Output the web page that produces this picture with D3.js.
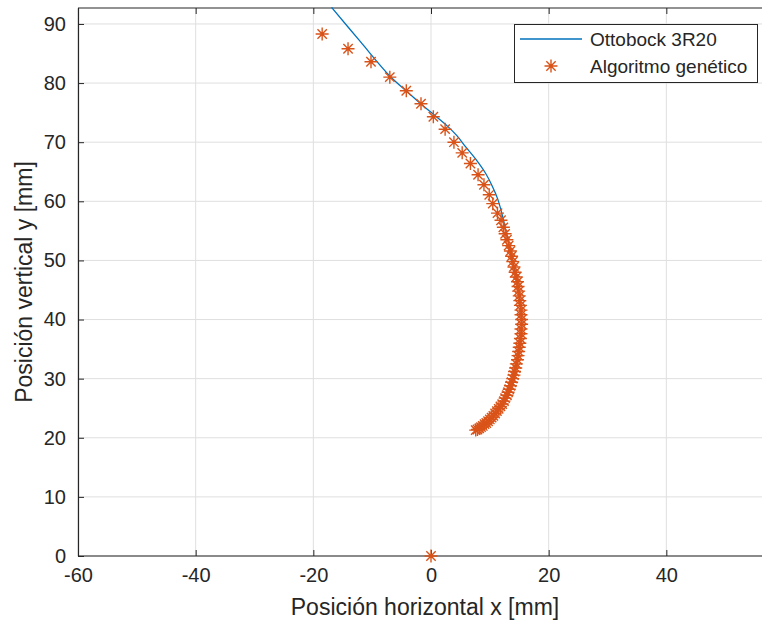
<!DOCTYPE html>
<html>
<head>
<meta charset="utf-8">
<script src="https://cdn.jsdelivr.net/npm/d3@7"></script>
<style>
  body { margin: 0; background: #fff; }
  svg { display: block; font-family: "Liberation Sans", Arial, sans-serif; }
</style>
</head>
<body>
<div id="chart"></div>
<script>
// Ottobock 3R20 trajectory (line)
var lineX = [-16.9, -12.0, -7.0, -3.9, -1.4, 0.8, 2.7, 4.4, 5.9, 7.7, 9.3, 10.4, 11.3, 11.9, 12.6, 13.3, 13.9, 14.4, 14.8, 15.1, 15.3, 15.4, 15.4, 15.3, 15.1, 14.8, 14.4, 13.9, 13.3, 12.6, 11.8, 10.9, 10.0, 9.1, 8.2, 7.6];
var lineY = [92.8, 87.0, 81.2, 78.4, 76.2, 74.4, 72.8, 71.1, 69.2, 67.0, 64.7, 62.6, 60.5, 58.5, 55.6, 52.5, 49.8, 47.2, 45.2, 43.2, 41.6, 40.0, 38.4, 36.8, 35.3, 33.9, 32.3, 30.3, 28.2, 26.4, 25.0, 24.0, 23.1, 22.3, 21.6, 21.3];

// Algoritmo genético (stars)
var gaX = [-18.5, -14.1, -10.2, -7.0, -4.2, -1.7, 0.4, 2.4, 3.9, 5.3, 6.7, 8.0, 9.0, 9.9, 10.5, 11.3, 11.9,
  12.3, 12.6, 12.9, 13.2, 13.5, 13.7, 13.9, 14.1, 14.3, 14.5, 14.7, 14.8, 14.9, 15.0, 15.1, 15.2, 15.3, 15.3, 15.4, 15.4,
  15.3, 15.3, 15.2, 15.1, 15.0, 14.9, 14.8, 14.7, 14.5, 14.4, 14.2, 14.1, 13.9, 13.7, 13.5, 13.3, 13.1, 12.9, 12.6, 12.4,
  12.1, 11.8, 11.5, 11.2, 10.9, 10.6, 10.3, 10.0, 9.7, 9.4, 9.1, 8.8, 8.5, 8.2, 7.9, 7.6, 0];
var gaY = [88.3, 85.8, 83.6, 81.0, 78.7, 76.5, 74.3, 72.2, 70.0, 68.2, 66.4, 64.5, 62.8, 61.1, 59.6, 58.0, 56.8,
  55.6, 54.5, 53.5, 52.5, 51.6, 50.7, 49.8, 48.9, 48.0, 47.2, 46.4, 45.6, 44.8, 44.0, 43.2, 42.4, 41.6, 40.8, 40.0, 39.2,
  38.4, 37.6, 36.8, 36.0, 35.3, 34.6, 33.9, 33.2, 32.5, 31.8, 31.2, 30.6, 30.0, 29.4, 28.8, 28.2, 27.7, 27.2, 26.7, 26.2,
  25.7, 25.3, 24.9, 24.5, 24.1, 23.7, 23.4, 23.1, 22.8, 22.5, 22.3, 22.0, 21.8, 21.6, 21.4, 21.3, 0];

var xTicks = [-60, -40, -20, 0, 20, 40];
var yTicks = [0, 10, 20, 30, 40, 50, 60, 70, 80, 90];
var seriesNames = ["Ottobock 3R20", "Algoritmo genético"];

var W = 762, H = 626;
var mLeft = 78, mTop = 8, mBottom = 556, mRight = 784;
var blue = "#0072BD", orange = "#D95319", axisCol = "#262626";

var svg = d3.select("#chart").append("svg").attr("width", W).attr("height", H);

var x = d3.scaleLinear().domain([-60, 60]).range([mLeft, mRight]);
var y = d3.scaleLinear().domain([0, 92.7]).range([mBottom, mTop]);

// grid
svg.append("g").selectAll("line").data(xTicks).enter().append("line")
  .attr("x1", function (d) { return x(d); }).attr("x2", function (d) { return x(d); })
  .attr("y1", mTop).attr("y2", mBottom)
  .attr("stroke", "#dfdfdf").attr("stroke-width", 1);
svg.append("g").selectAll("line").data(yTicks).enter().append("line")
  .attr("x1", mLeft).attr("x2", W)
  .attr("y1", function (d) { return y(d); }).attr("y2", function (d) { return y(d); })
  .attr("stroke", "#dfdfdf").attr("stroke-width", 1);

// axes
var fmt = function (d) { return String(d); };
var xAxis = d3.axisBottom(x).tickValues(xTicks).tickSizeInner(-6).tickSizeOuter(0).tickPadding(12).tickFormat(fmt);
var yAxis = d3.axisLeft(y).tickValues(yTicks).tickSizeInner(-6).tickSizeOuter(0).tickPadding(12).tickFormat(fmt);
var gx = svg.append("g").attr("transform", "translate(0," + mBottom + ")").call(xAxis);
var gy = svg.append("g").attr("transform", "translate(" + mLeft + ",0)").call(yAxis);
var gxt = svg.append("g").attr("transform", "translate(0," + mTop + ")")
  .call(d3.axisTop(x).tickValues(xTicks).tickSizeInner(-6).tickSizeOuter(0).tickFormat(""));
[gx, gy, gxt].forEach(function (g) {
  g.select(".domain").attr("stroke", axisCol).attr("stroke-width", 1.2);
  g.selectAll(".tick line").attr("stroke", axisCol);
  g.selectAll(".tick text").attr("fill", axisCol).attr("font-size", 20)
    .attr("font-family", "Liberation Sans, Arial, sans-serif");
});
gx.select(".domain").attr("d", "M" + mLeft + ",0H" + W);
gxt.select(".domain").attr("d", "M" + mLeft + ",0H" + W);

// Ottobock line
var line = d3.line().x(function (d) { return x(d[0]); }).y(function (d) { return y(d[1]); }).curve(d3.curveCatmullRom);
svg.append("path").datum(d3.zip(lineX, lineY))
  .attr("d", line).attr("fill", "none").attr("stroke", blue).attr("stroke-width", 1.3);

// asterisk marker
function star(g, r) {
  var d = "M" + (-r) + ",0H" + r + "M0," + (-r) + "V" + r;
  var k = r * 0.72;
  d += "M" + (-k) + "," + (-k) + "L" + k + "," + k + "M" + (-k) + "," + k + "L" + k + "," + (-k);
  g.append("path").attr("d", d).attr("stroke", orange).attr("stroke-width", 1.4).attr("fill", "none");
}
svg.append("g").selectAll("g").data(d3.zip(gaX, gaY)).enter().append("g")
  .attr("transform", function (d) { return "translate(" + x(d[0]) + "," + y(d[1]) + ")"; })
  .each(function () { star(d3.select(this), 6.5); });

// axis labels
svg.append("text").attr("x", 425).attr("y", 615).attr("text-anchor", "middle")
  .attr("font-size", 23).attr("fill", axisCol).text("Posición horizontal x [mm]");
svg.append("text").attr("transform", "translate(32," + ((mTop + mBottom) / 2) + ") rotate(-90)")
  .attr("text-anchor", "middle").attr("font-size", 23).attr("fill", axisCol).text("Posición vertical y [mm]");

// legend
var lg = svg.append("g");
lg.append("rect").attr("x", 514.5).attr("y", 24.5).attr("width", 243).attr("height", 58)
  .attr("fill", "#fff").attr("stroke", axisCol).attr("stroke-width", 1);
lg.append("line").attr("x1", 520).attr("x2", 582).attr("y1", 39).attr("y2", 39)
  .attr("stroke", blue).attr("stroke-width", 1.3);
star(lg.append("g").attr("transform", "translate(551,66)"), 6.5);
lg.append("text").attr("x", 590).attr("y", 46).attr("font-size", 19).attr("fill", axisCol).text(seriesNames[0]);
lg.append("text").attr("x", 590).attr("y", 73).attr("font-size", 19).attr("fill", axisCol).text(seriesNames[1]);
</script>
</body>
</html>
